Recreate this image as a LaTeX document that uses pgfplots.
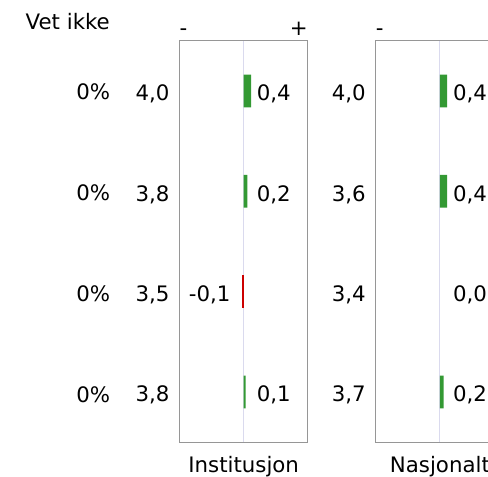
\documentclass[border=0pt]{standalone}
\usepackage{fontspec}
\setmainfont{DejaVu Sans}
\usepackage{pgfplots}
\pgfplotsset{compat=1.18}
\definecolor{barg}{RGB}{51,153,51}
\definecolor{barr}{RGB}{204,0,0}
\definecolor{boxgray}{RGB}{150,150,150}
\definecolor{midline}{RGB}{218,218,238}
\newcommand{\fs}{\fontsize{21.3bp}{25bp}\selectfont}
\pgfplotsset{
  panel/.style={
    scale only axis, width=128.4bp, height=401.6bp, anchor=north west,
    xmin=-3.5, xmax=3.5, ymin=-0.5, ymax=3.5, y dir=reverse,
    axis line style={draw=boxgray, line width=1.2bp},
    xtick={0}, xticklabels={}, xmajorgrids,
    major grid style={draw=midline, line width=1bp},
    ytick={0,1,2,3}, tick style={draw=none},
    yticklabel style={font=\fs, inner sep=0pt, anchor=base east, xshift=-9.8bp, yshift=-9.7bp},
    xlabel style={font=\fs, inner sep=0pt, at={(axis description cs:0.5,0)}, anchor=base, yshift=-29.7bp},
    clip=false,
  },
}
\tikzset{
  vpos/.style={anchor=base west, inner sep=0pt, xshift=13bp, yshift=-9.7bp, font=\fs},
  vneg/.style={anchor=base east, inner sep=0pt, xshift=-13bp, yshift=-9.7bp, font=\fs},
  sgn/.style={inner sep=0pt, yshift=5bp, font=\fs},
}
\pgfplotsset{bars/.style={xbar, bar shift=0pt, bar width=32.7bp, draw=none}}
\begin{document}
\fs
\begin{tikzpicture}
\useasboundingbox (0bp,0bp) rectangle (488bp,477bp);
\clip (0bp,0bp) rectangle (488bp,477bp);

\node[anchor=base west, inner sep=0pt, font=\fs] at (25.5bp,447.7bp) {Vet ikke};
\foreach \yy in {377,276,175,74}
  \node[anchor=base east, inner sep=0pt, font=\fs] at (110.3bp,\yy bp) {0\%};

% Institusjon
\begin{axis}[panel, at={(179.5bp,436.3bp)}, xlabel={Institusjon},
  yticklabels={{4,0},{3,8},{3,5},{3,8}}]
\addplot[bars, fill=barg] coordinates {(0.4,0) (0.2,1) (0.1,3)};
\addplot[bars, fill=barr] coordinates {(-0.1,2)};
\node[vpos] at (axis cs:0,0) {0,4};
\node[vpos] at (axis cs:0,1) {0,2};
\node[vneg] at (axis cs:0,2) {-0,1};
\node[vpos] at (axis cs:0,3) {0,1};
\node[sgn, anchor=base west] at (axis description cs:0,1) {-};
\node[sgn, anchor=base east] at (axis description cs:1,1) {+};
\end{axis}

% Nasjonalt
\begin{axis}[panel, at={(375.7bp,436.3bp)}, xlabel={Nasjonalt},
  yticklabels={{4,0},{3,6},{3,4},{3,7}}]
\addplot[bars, fill=barg] coordinates {(0.4,0) (0.4,1) (0.2,3)};
\node[vpos] at (axis cs:0,0) {0,4};
\node[vpos] at (axis cs:0,1) {0,4};
\node[vpos] at (axis cs:0,2) {0,0};
\node[vpos] at (axis cs:0,3) {0,2};
\node[sgn, anchor=base west] at (axis description cs:0,1) {-};
\end{axis}
\end{tikzpicture}
\end{document}
